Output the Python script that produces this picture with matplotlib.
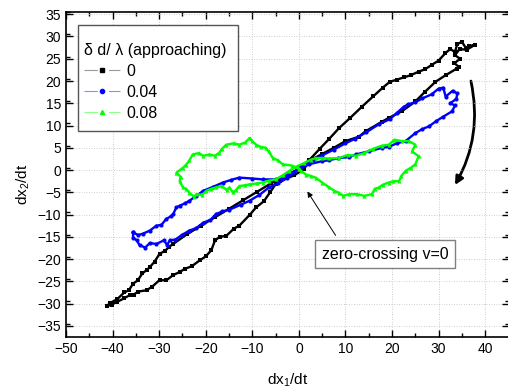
import matplotlib
matplotlib.use("Agg")
import matplotlib.pyplot as plt
from matplotlib.lines import Line2D
from matplotlib.patches import FancyArrowPatch, Rectangle

plt.rcParams["font.family"] = ["Liberation Sans", "DejaVu Sans"]
plt.rcParams["mathtext.default"] = "regular"

# trajectories (dx1/dt, dx2/dt), delta d / lambda = 0, 0.04, 0.08
x_0 = [-41.3, -40.6, -39.0, -37.5, -36.5, -35.6, -34.6, -33.6, -32.6, -32.0, -31.0, -29.9,
       -28.8, -27.8, -27.0, -24.0, -21.0, -18.0, -15.0, -12.0, -9.0, -6.0, -3.5, -2.0, -0.5,
       0.5, 2.2, 4.5, 6.5, 8.6, 11.0, 13.5, 16.0, 18.0, 19.5, 21.0, 22.5, 24.0, 25.7, 27.0,
       28.5, 30.0, 31.4, 32.5, 33.5, 34.0, 35.0, 35.8, 36.5, 37.9, 36.0, 34.5, 33.5, 34.6,
       33.4, 34.3, 33.9, 31.5, 29.3, 27.0, 25.0, 22.1, 19.3, 17.9, 14.3, 12.9, 10.0, 7.5, 5.0,
       2.5, 1.0, -1.0, -2.5, -4.0, -5.0, -6.2, -7.5, -9.2, -10.5, -12.8, -14.0, -15.6, -17.0,
       -18.0, -18.8, -20.0, -21.3, -23.0, -24.5, -25.6, -27.0, -28.5, -29.9, -31.5, -32.7,
       -34.5, -35.5, -36.3, -37.5, -39.0, -40.2, -41.3]
y_0 = [-30.6, -29.9, -29.0, -27.5, -27.0, -25.5, -24.8, -23.2, -22.4, -21.8, -20.6, -18.8,
       -18.2, -17.2, -16.6, -14.4, -12.5, -10.6, -8.7, -6.8, -4.9, -3.0, -1.6, -0.8, 0.0,
       0.8, 2.2, 4.8, 7.0, 9.4, 11.7, 14.2, 16.6, 18.5, 19.8, 20.3, 20.8, 21.3, 22.1, 22.6,
       23.6, 24.6, 26.2, 27.2, 26.5, 28.3, 28.8, 27.5, 27.8, 28.2, 27.0, 27.2, 25.8, 25.0,
       24.0, 23.2, 22.8, 21.3, 19.8, 17.5, 15.4, 13.2, 11.7, 10.9, 8.7, 7.5, 6.5, 5.0, 3.6,
       2.2, 0.2, -1.2, -1.8, -2.4, -3.2, -5.0, -7.0, -8.4, -10.0, -12.5, -13.2, -14.8, -15.0,
       -15.8, -18.0, -19.4, -20.3, -21.6, -22.2, -22.9, -23.6, -24.8, -24.7, -26.2, -27.0,
       -27.3, -28.0, -28.1, -28.8, -29.6, -30.2, -30.6]

x_004 = [-35.6, -34.5, -33.5, -32.0, -30.6, -29.5, -28.5, -27.5, -27.0, -26.3, -25.6, -24.5,
         -23.5, -22.0, -20.6, -18.5, -16.3, -14.5, -12.8, -10.0, -7.8, -5.0, -3.6, -2.0, 0.0,
         2.2, 5.0, 6.5, 8.5, 10.8, 12.2, 15.0, 17.9, 19.3, 21.0, 22.9, 25.0, 26.5, 27.9, 29.5,
         31.0, 32.9, 33.5, 32.5, 33.8, 34.0, 33.0, 31.5, 31.0, 30.0, 28.5, 26.5, 25.0, 23.5,
         22.5, 21.0, 19.5, 17.2, 14.5, 12.0, 10.0, 7.5, 5.0, 3.0, 0.7, -1.0, -2.5, -4.5, -6.4,
         -8.5, -10.6, -12.5, -14.9, -16.5, -17.8, -19.0, -20.5, -22.0, -23.5, -25.0, -26.5,
         -27.7, -28.3, -29.0, -30.6, -32.0, -33.0, -34.2, -34.8, -35.6, -35.6]
y_004 = [-14.0, -14.6, -14.3, -13.6, -12.5, -12.3, -11.0, -10.4, -9.9, -8.4, -8.0, -7.5,
         -6.9, -5.8, -4.7, -3.8, -2.8, -2.2, -1.7, -1.9, -2.1, -2.1, -1.8, -0.8, 0.2,
         1.3, 2.0, 2.2, 2.7, 2.9, 3.5, 4.2, 5.0, 5.2, 6.0, 6.5, 8.3, 9.2, 9.8, 11.0,
         12.0, 13.2, 14.5, 15.0, 16.0, 17.2, 17.8, 16.5, 18.5, 18.3, 17.0, 16.1, 15.2, 14.8,
         14.2, 12.8, 11.4, 10.3, 8.5, 7.0, 6.0, 4.6, 3.3, 2.0, 0.8, -0.5, -1.8, -3.0, -3.9,
         -5.6, -6.9, -7.8, -8.9, -9.3, -9.9, -11.2, -11.8, -13.0, -13.6, -14.5, -15.6,
         -15.8, -16.8, -15.8, -16.6, -16.4, -17.4, -16.9, -15.8, -15.2, -14.0]

x_008 = [0.0, -1.5, -3.5, -4.5, -5.6, -6.5, -7.1, -8.2, -9.2, -10.0, -10.6, -11.5, -12.8,
         -14.0, -15.6, -16.5, -17.1, -18.0, -19.2, -20.5, -21.5, -22.8, -23.5, -24.2, -24.9,
         -26.3, -25.4, -25.6, -24.9, -24.2, -23.5, -22.5, -22.0, -20.8, -19.9, -18.8, -17.8,
         -16.5, -15.5, -14.9, -14.2, -13.5, -12.8, -11.5, -10.6, -9.0, -7.8, -6.5, -5.0, -3.5,
         -2.1, -0.5, 1.0, 2.5, 3.6, 5.0, 6.5, 8.6, 10.5, 12.2, 14.0, 16.0, 17.9, 19.3, 20.5,
         22.1, 23.6, 25.0, 24.3, 25.7, 25.0, 24.0, 22.9, 22.0, 21.5, 20.3, 19.3, 18.0, 17.2,
         16.3, 15.7, 14.0, 12.5, 10.8, 9.5, 8.6, 7.5, 6.5, 5.0, 3.6, 2.5, 1.5, 0.5, 0.0]
y_008 = [0.3, 1.0, 1.3, 2.2, 2.7, 4.2, 5.0, 5.2, 5.7, 6.5, 7.2, 6.2, 5.7,
         6.0, 5.7, 4.8, 3.9, 3.2, 3.5, 3.2, 3.8, 3.5, 2.2, 1.2, 0.5,
         -0.6, -1.5, -2.5, -3.9, -4.2, -5.1, -6.0, -5.4, -5.6, -4.7, -4.2, -3.9,
         -3.6, -4.5, -3.9, -5.0, -4.5, -3.6, -3.4, -3.2, -3.0, -2.8, -2.4, -2.1, -1.2,
         -0.2, 0.8, 1.5, 2.3, 2.7, 2.7, 2.6, 2.7, 3.4, 3.2, 3.8, 4.8, 5.5, 5.7, 6.8,
         6.5, 6.5, 5.7, 4.2, 3.1, 1.3, 0.5, -0.2, -1.3, -2.5, -2.5, -2.8, -3.3, -3.9,
         -4.2, -5.4, -5.8, -5.4, -5.4, -5.8, -5.1, -4.6, -3.9, -2.8, -1.7, -1.3, -1.0, -0.2, 0.3]

labels = ["0", "0.04", "0.08"]
colors = ["#000000", "#0000ff", "#00ff00"]
light = ["#9a9a9a", "#8c8cff", "#8cff8c"]
markers = ["s", "o", "^"]

fig = plt.figure(figsize=(5.08, 3.87), dpi=100)
ax = fig.add_axes([66 / 508, 50 / 387, 442.5 / 508, 325 / 387])

series = [(x_0, y_0), (x_004, y_004), (x_008, y_008)]
for (xs, ys), c, m in zip(series, colors, markers):
    ax.plot(xs, ys, color=c, lw=1.7, marker=m, ms=3, mew=0)

ax.set_xlim(-50, 45)
ax.set_ylim(-37.5, 35)
ax.set_xticks(range(-50, 41, 10))
ax.set_xticks(range(-45, 45, 10), minor=True)
ax.set_yticks(range(-35, 36, 5))
ax.set_yticks([v + 2.5 for v in range(-37, 35, 5)], minor=True)
ax.tick_params(which="both", direction="in", top=True, right=True, labelsize=10, width=1)
ax.tick_params(which="major", length=5)
ax.tick_params(which="minor", length=3)
ax.grid(True, which="major", color="#bdbdbd", lw=0.6, ls=(0, (1, 2)))
for s in ax.spines.values():
    s.set_linewidth(1.2)

ax.set_xlabel("dx$_1$/dt", fontsize=11)
ax.set_ylabel("dx$_2$/dt", fontsize=11)
ax.xaxis.set_label_coords(0.5, -0.105)
ax.yaxis.set_label_coords(-0.076, 0.47)

# legend: frame drawn separately so its size matches the picture
frame = Rectangle((0.027, 0.634), 0.362, 0.326, transform=ax.transAxes,
                  fc="white", ec="#555555", lw=1.0, zorder=4.9)
ax.add_patch(frame)
handles = [Line2D([], [], color=lc, lw=0.8, ls=(0, (12, 10)),
                  marker=m, ms=3, mfc=c, mec=c)
           for lc, c, m in zip(light, colors, markers)]
leg = ax.legend(handles, labels, title="\u03b4 d/ \u03bb (approaching)",
                loc="upper left", bbox_to_anchor=(0.04, 0.905), borderaxespad=0,
                borderpad=0, frameon=False, fontsize=11.5, title_fontsize=11.5,
                handlelength=2.3, handletextpad=0.4, labelspacing=0.38,
                alignment="left")

# annotations
ax.annotate("", xy=(1.5, -4.3), xytext=(8.2, -15.2),
            arrowprops=dict(arrowstyle="-|>", color="black", lw=0.7, mutation_scale=8))
ax.text(18.5, -18.9, "zero-crossing v=0", fontsize=11.5, ha="center", va="center",
        bbox=dict(boxstyle="square,pad=0.4", fc="white", ec="#808080", lw=1))
arc = FancyArrowPatch((36.8, 20.6), (33.2, -3.9), connectionstyle="arc3,rad=-0.2",
                      arrowstyle="-|>", mutation_scale=12, lw=2, color="black")
ax.add_patch(arc)

fig.savefig("out.png", dpi=100)
